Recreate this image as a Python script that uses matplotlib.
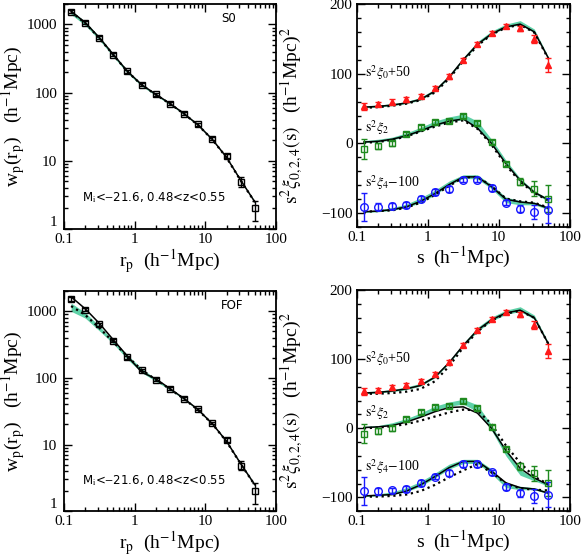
import matplotlib
matplotlib.use("Agg")
import matplotlib.pyplot as plt
import numpy as np
from matplotlib.ticker import MultipleLocator, FixedLocator, FixedFormatter, LogLocator, NullFormatter

plt.rcParams['font.family'] = ['Liberation Serif', 'DejaVu Serif']
plt.rcParams['mathtext.fontset'] = 'stix'

# bin centres (h^-1 Mpc)
r = [0.126, 0.2, 0.316, 0.5, 0.79, 1.26, 2.0, 3.16, 5.0, 7.9, 12.6, 20.0, 31.6, 50.1]

# projected correlation function, data
wp = [1540, 1060, 636, 360, 204, 131, 94, 69, 49, 34, 21, 11.6, 4.8, 2.0]
wp_lo = [90, 60, 35, 18, 10, 6, 4, 3, 2, 1.5, 1, 0.8, 0.7, 0.7]
wp_hi = [100, 65, 40, 20, 11, 7, 4.5, 3, 2, 1.5, 1, 0.8, 0.9, 0.6]

# wp models: S0
wp_s0 = [1560, 1060, 640, 360, 205, 130, 94, 69, 49, 33.5, 20.5, 11.2, 5.2, 2.5]
wp_s0_dot = [1530, 1040, 630, 356, 203, 129, 93, 68.5, 48.6, 33.3, 20.4, 11.1, 5.15, 2.48]
wp_s0_band_lo = [1400, 970, 590, 335, 192, 124, 90, 66.5, 47.5, 32.5, 20, 10.9, 5.05, 2.42]
wp_s0_band_hi = [1620, 1100, 665, 372, 212, 134, 96, 70.5, 50, 34.3, 20.9, 11.4, 5.3, 2.56]

# wp models: FOF
wp_fof = [1650, 1090, 660, 373, 212, 122, 97, 69, 49, 33.5, 20.5, 11.2, 5.2, 2.5]
wp_fof_dot = [1200, 880, 565, 345, 210, 132, 94, 68, 48.5, 33, 20.4, 11.1, 5.15, 2.48]
wp_fof_band_lo = [1000, 790, 510, 325, 190, 120, 89, 66, 47.5, 32.5, 20, 10.9, 5.05, 2.42]
wp_fof_band_hi = [1330, 960, 600, 365, 222, 138, 97, 70.5, 50, 34.3, 20.9, 11.4, 5.3, 2.56]

# multipoles, data
xi0 = [53.6, 56, 60, 63, 68, 79, 96, 120, 142, 158, 168, 165, 150, 112]
xi0_err = [5, 3, 3, 3, 3, 3, 3, 3, 3, 3, 3, 4, 6, 10]
xi2 = [-8, -4, 0, 13, 23, 31, 32, 39, 29, 1.5, -30, -55, -65, -79]
xi2_err = [14, 4, 4, 3, 3, 3, 3, 3, 3, 3, 3, 5, 11, 19]
xi4 = [-91, -91, -90, -88, -79, -70, -65, -52, -52, -64, -85, -94, -98, -96]
xi4_err = [20, 5, 4, 4, 4, 4, 4, 4, 4, 4, 4, 5, 10, 18]

# multipole models: S0
xi0_s0 = [52, 53, 55, 58, 63, 75, 95, 120, 142, 157, 167, 171, 160, 122]
xi0_s0_dot = [51, 52, 54, 57, 62, 73, 93, 118, 140, 156, 166, 170, 159, 121]
xi0_s0_band_lo = [51, 52, 54, 57, 62, 74, 94, 119, 141, 156, 166, 170, 159, 121]
xi0_s0_band_hi = [54, 55, 57, 60, 66, 78, 98, 123, 146, 161, 171, 176, 164, 124]
xi2_s0 = [2, 3, 6, 11, 18, 26, 32, 35, 22, 0, -29, -53, -70, -81]
xi2_s0_dot = [1, 2, 5, 10, 17, 24, 30, 33, 21, -2, -31, -55, -71, -82]
xi2_s0_band_lo = [1, 2, 5, 10, 17, 25, 31, 34, 22, -1, -30, -55, -72, -83]
xi2_s0_band_hi = [4, 6, 9, 15, 23, 32, 38, 42, 32, 6, -24, -50, -68, -79]
xi4_s0 = [-98, -97, -95, -91, -83, -72, -59, -48, -48, -62, -80, -84, -86, -93]
xi4_s0_dot = [-98, -97, -96, -92, -85, -74, -61, -49, -48, -61, -79, -83, -85, -92]
xi4_s0_band_lo = [-99, -98, -96, -92, -85, -74, -60, -50, -51, -65, -85, -88, -88, -95]
xi4_s0_band_hi = [-97, -95, -92, -87, -78, -67, -54, -45, -45, -59, -77, -82, -84, -91]

# multipole models: FOF
xi0_fof = [51, 52, 54, 57, 62, 74, 95, 120, 142, 157, 167, 171, 160, 122]
xi0_fof_dot = [50, 50, 51, 53, 57, 68, 90, 117, 140, 156, 166, 170, 160, 122]
xi0_fof_band_lo = [50, 51, 53, 56, 61, 73, 94, 119, 140, 155, 165, 169, 158, 121]
xi0_fof_band_hi = [53, 54, 56, 60, 65, 77, 98, 123, 146, 161, 171, 176, 164, 124]
xi2_fof = [1, 2, 4, 9, 16, 24, 30, 31, 22, 0, -32, -58, -72, -82]
xi2_fof_dot = [0, 1, 3, 6, 11, 17, 23, 27, 26, 6, -25, -50, -70, -81]
xi2_fof_band_lo = [1, 2, 5, 10, 17, 26, 32, 35, 24, -3, -40, -68, -76, -84]
xi2_fof_band_hi = [3, 4, 8, 14, 22, 32, 38, 42, 34, 5, -32, -60, -72, -80]
xi4_fof = [-98, -97, -96, -91, -82, -70, -57, -48, -48, -62, -79, -86, -88, -94]
xi4_fof_dot = [-99, -99, -98, -96, -91, -82, -71, -61, -52, -64, -80, -87, -89, -90]
xi4_fof_band_lo = [-99, -98, -96, -92, -84, -72, -59, -51, -51, -66, -86, -89, -89, -95]
xi4_fof_band_hi = [-97, -95, -92, -86, -77, -65, -52, -45, -45, -59, -80, -84, -86, -92]

band_col = '#5ed1a7'

fig = plt.figure(figsize=(5.82, 5.58), dpi=100)


def style_log_x(ax):
    ax.set_xscale('log')
    ax.set_xlim(0.1, 100)
    ax.xaxis.set_major_locator(FixedLocator([0.1, 1, 10, 100]))
    ax.xaxis.set_major_formatter(FixedFormatter(['0.1', '1', '10', '100']))
    ax.xaxis.set_minor_locator(LogLocator(base=10, subs=np.arange(2, 10)))
    ax.xaxis.set_minor_formatter(NullFormatter())
    ax.tick_params(which='both', direction='in', top=True, right=True, labelsize=11, width=1)
    ax.tick_params(which='major', length=6, pad=3)
    ax.tick_params(which='minor', length=3)
    for s in ax.spines.values():
        s.set_linewidth(1.3)


def wp_panel(rect, model, dot, lo, hi, tag):
    ax = fig.add_axes(rect)
    ax.fill_between(r, lo, hi, color=band_col, lw=0)
    ax.plot(r, model, 'k-', lw=1.1)
    ax.plot(r, dot, 'k:', lw=1.6)
    ax.errorbar(r, wp, yerr=[wp_lo, wp_hi], fmt='s', mfc='none', mec='k', ecolor='k',
                ms=4.5, mew=1, capsize=2.5, elinewidth=1)
    style_log_x(ax)
    ax.set_yscale('log')
    ax.set_ylim(1, 2000)
    ax.yaxis.set_major_locator(FixedLocator([1, 10, 100, 1000]))
    ax.yaxis.set_major_formatter(FixedFormatter(['1', '10', '100', '1000']))
    ax.yaxis.set_minor_locator(LogLocator(base=10, subs=np.arange(2, 10)))
    ax.yaxis.set_minor_formatter(NullFormatter())
    ax.tick_params(axis='y', which='major', pad=5)
    # the lowest y label sits just above the corner, clear of "0.1"
    ax.yaxis.get_major_ticks()[0].label1.set_verticalalignment('bottom')
    ax.set_xlabel(r'r$_\mathrm{p}$  (h$^{-1}$Mpc)', fontsize=14)
    ax.set_ylabel(r'w$_\mathrm{p}$(r$_\mathrm{p}$)   (h$^{-1}$Mpc)', fontsize=14)
    ax.xaxis.set_label_coords(0.5, -0.08)
    ax.yaxis.set_label_coords(-0.175, 0.5)
    ax.text(0.74, 0.92, tag, transform=ax.transAxes, fontsize=8.5, family='DejaVu Sans')
    ax.text(0.085, 0.12, r'M$_\mathrm{i}$<$-$21.6, 0.48<z<0.55', transform=ax.transAxes,
            fontsize=8.5, family='DejaVu Sans')
    return ax


def xi_panel(rect, m0, d0, l0, h0, m2, d2, l2, h2, m4, d4, l4, h4):
    ax = fig.add_axes(rect)
    for lo, hi in [(l0, h0), (l2, h2), (l4, h4)]:
        ax.fill_between(r, lo, hi, color=band_col, lw=0)
    for m, d in [(m0, d0), (m2, d2), (m4, d4)]:
        ax.plot(r, m, 'k-', lw=1.1)
        ax.plot(r, d, 'k:', lw=1.6)
    ax.errorbar(r, xi0, yerr=xi0_err, fmt='^', color='#ff1a1a', ms=4.5, capsize=2.5, elinewidth=1)
    ax.errorbar(r, xi2, yerr=xi2_err, fmt='s', mfc='none', mec='#1f8a1f', ecolor='#1f8a1f',
                ms=4.5, mew=1, capsize=2.5, elinewidth=1)
    ax.errorbar(r, xi4, yerr=xi4_err, fmt='o', mfc='none', mec='#1a1aff', ecolor='#1a1aff',
                ms=5.5, mew=1, capsize=2.5, elinewidth=1)
    style_log_x(ax)
    ax.set_ylim(-120, 200)
    ax.yaxis.set_major_locator(FixedLocator([-100, 0, 100, 200]))
    ax.yaxis.set_major_formatter(FixedFormatter(['\u2212100', '0', '100', '200']))
    ax.yaxis.set_minor_locator(MultipleLocator(20))
    ax.set_xlabel(r's  (h$^{-1}$Mpc)', fontsize=14)
    ax.set_ylabel(r'$\mathrm{s}^2\xi_{0,2,4}\mathrm{(s)}$   (h$^{-1}$Mpc)$^2$', fontsize=14)
    ax.xaxis.set_label_coords(0.5, -0.08)
    ax.yaxis.set_label_coords(-0.245, 0.5)
    ax.text(0.13, 101, r'$\mathrm{s}^2\xi_0$+50', fontsize=10, va='center')
    ax.text(0.13, 22, r'$\mathrm{s}^2\xi_2$', fontsize=10, va='center')
    ax.text(0.13, -56, r'$\mathrm{s}^2\xi_4$$-$100', fontsize=10, va='center')
    return ax


wp_panel([0.110, 0.590, 0.364, 0.403], wp_s0, wp_s0_dot, wp_s0_band_lo, wp_s0_band_hi, 'S0')
wp_panel([0.110, 0.084, 0.364, 0.394], wp_fof, wp_fof_dot, wp_fof_band_lo, wp_fof_band_hi, 'FOF')
xi_panel([0.613, 0.593, 0.366, 0.400],
         xi0_s0, xi0_s0_dot, xi0_s0_band_lo, xi0_s0_band_hi,
         xi2_s0, xi2_s0_dot, xi2_s0_band_lo, xi2_s0_band_hi,
         xi4_s0, xi4_s0_dot, xi4_s0_band_lo, xi4_s0_band_hi)
xi_panel([0.613, 0.084, 0.366, 0.396],
         xi0_fof, xi0_fof_dot, xi0_fof_band_lo, xi0_fof_band_hi,
         xi2_fof, xi2_fof_dot, xi2_fof_band_lo, xi2_fof_band_hi,
         xi4_fof, xi4_fof_dot, xi4_fof_band_lo, xi4_fof_band_hi)

fig.savefig('out.png', dpi=100)
